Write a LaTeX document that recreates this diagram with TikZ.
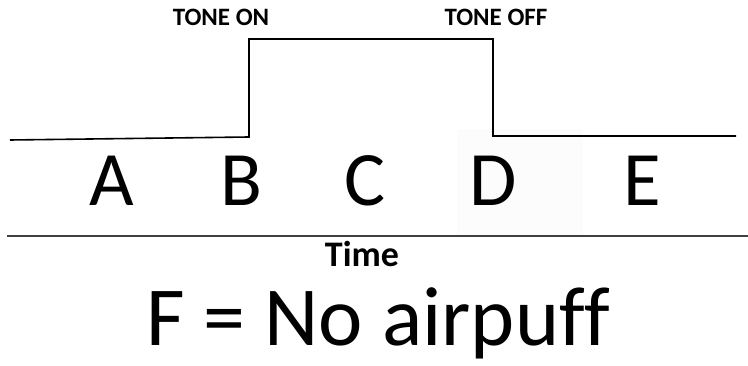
\documentclass[tikz,border=0pt]{standalone}
\usepackage{fontspec}
\setmainfont{Carlito}[Ligatures=NoCommon]
\usepackage{tikz}

\tikzset{
  phase/.style={anchor=base, inner sep=0pt, font=\fontsize{77}{80}\selectfont},
  event/.style={anchor=base, inner sep=0pt, font=\fontsize{25}{28}\selectfont\bfseries},
  signal/.style={line width=1.6pt, line join=miter}
}

\begin{document}
\begin{tikzpicture}[x=1pt, y=-1pt]
      \useasboundingbox (0,0) rectangle (748,366);
      % faint box behind D
      \fill[black!1.2] (457,129) rectangle (583,235);
      % tone trace
      \coordinate (start) at (10,140);
      \coordinate (onlow) at (249,137);
      \coordinate (onhigh) at (249,39);
      \coordinate (offhigh) at (493,39);
      \coordinate (offlow) at (493,136);
      \coordinate (stop) at (736,136);
      \draw[signal] (start) -- (onlow) -- (onhigh) -- (offhigh) -- (offlow) -- (stop);
      \node[event] (on) at (221,26) {TONE ON};
      \node[event] (off) at (496,26) {TONE OFF};
      % phases
      \node[phase] (A) at (112,206) {A};
      \node[phase] (B) at (241,206) {B};
      \node[phase] (C) at (365,206) {C};
      \node[phase] (D) at (493,206) {D};
      \node[phase] (E) at (642,206) {E};
      % time axis
      \coordinate (axl) at (7,236);
      \coordinate (axr) at (748,236);
      \draw[line width=2pt, black!75] (axl) -- (axr);
      \node[anchor=base, inner sep=0pt, font=\fontsize{36}{40}\selectfont\bfseries] (time) at (362,267) {Time};
      \node[anchor=base, inner sep=0pt, font=\fontsize{84}{90}\selectfont] (puff) at (378,346) {F = No airpuff};
    \end{tikzpicture}
\end{document}
